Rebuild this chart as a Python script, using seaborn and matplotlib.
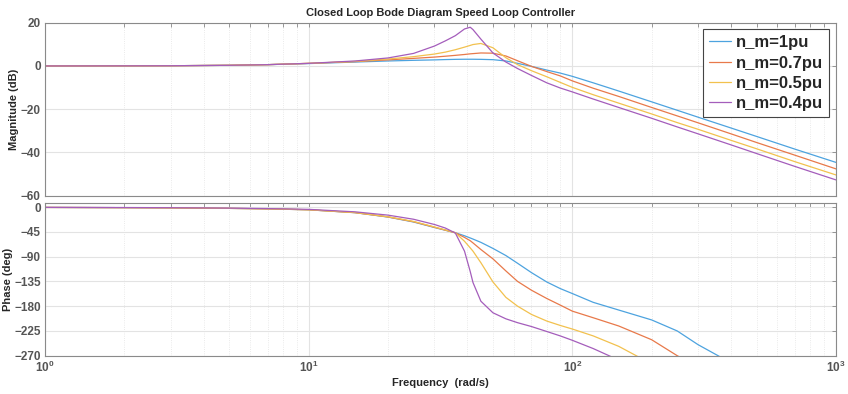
import numpy as np
import pandas as pd
import seaborn as sns
import matplotlib.pyplot as plt
from matplotlib.ticker import LogLocator, NullFormatter, MultipleLocator

# frequency grid (rad/s)
freq = [1, 2, 3, 5, 7, 10, 15, 20, 25, 30, 33, 36, 39, 41, 42, 45, 50, 56, 62,
        70, 80, 90, 100, 120, 150, 200, 250, 300, 400, 500, 700, 1000]

cases = ['n_m=1pu', 'n_m=0.7pu', 'n_m=0.5pu', 'n_m=0.4pu']

# magnitude (dB)
mag_1pu = [0, 0.05, 0.1, 0.3, 0.6, 1.1, 1.8, 2.3, 2.6, 2.8, 2.95, 3.05, 3.1, 3.1, 3.1, 3.05,
           2.9, 2.3, 1.2, -0.2, -1.9, -3.3, -4.8, -7.8, -11.6, -16.6, -20.5, -23.7, -28.7,
           -32.6, -38.5, -44.6]
mag_07pu = [0, 0.05, 0.1, 0.3, 0.6, 1.2, 2.0, 2.8, 3.5, 4.1, 4.5, 4.9, 5.3, 5.6, 5.7, 6.0,
            5.9, 4.6, 2.4, -0.2, -2.6, -4.6, -6.9, -10.3, -14.1, -19.2, -23.1, -26.3, -31.4,
            -35.4, -41.3, -47.6]
mag_05pu = [0, 0.05, 0.1, 0.3, 0.6, 1.2, 2.1, 3.2, 4.3, 5.5, 6.4, 7.5, 8.7, 9.5, 9.9, 10.4,
            8.4, 3.8, 0.6, -2.2, -5.0, -7.6, -9.9, -13.3, -17.2, -22.2, -26.2, -29.3, -34.4,
            -38.3, -44.3, -50.4]
mag_04pu = [0, 0.05, 0.1, 0.3, 0.6, 1.2, 2.3, 3.7, 5.8, 9.2, 11.6, 14.0, 17.1, 17.9, 16.8, 12.4,
            6.0, 1.8, -1.2, -4.4, -7.8, -10.2, -12.0, -15.3, -19.2, -24.2, -28.2, -31.4, -36.5,
            -40.5, -46.5, -52.7]

# phase (deg)
ph_1pu = [-0.5, -0.9, -1.3, -2.2, -3.1, -4.8, -10, -18, -27, -37, -42, -46.5, -52, -56, -58, -64,
          -75, -88, -102, -119, -136, -148, -157, -173, -187, -205, -225, -250, -283, -310,
          -350, -390]
ph_07pu = [-0.5, -0.9, -1.3, -2.2, -3.1, -4.8, -10, -17.8, -26.5, -36.5, -41.8, -46.5, -55, -61,
           -65, -77, -94, -116, -135, -151, -166, -178, -189, -201, -216, -241, -270, -290,
           -320, -345, -380, -420]
ph_05pu = [-0.5, -0.9, -1.3, -2.2, -3.1, -4.7, -9.8, -17.5, -26, -36, -41.5, -46.5, -62, -74,
           -80, -101, -136, -164, -180, -195, -207, -215, -221.5, -234, -253, -285, -305, -320,
           -345, -365, -395, -430]
ph_04pu = [-0.4, -0.7, -1.0, -1.8, -2.6, -4.0, -8.5, -14.5, -22, -31.5, -38, -47, -80, -117,
           -137, -171, -192, -203, -210, -217, -226, -234, -242, -257, -278, -300, -320, -335,
           -360, -380, -410, -440]

mags = [mag_1pu, mag_07pu, mag_05pu, mag_04pu]
phases = [ph_1pu, ph_07pu, ph_05pu, ph_04pu]

frames = []
for c, m, p in zip(cases, mags, phases):
    frames.append(pd.DataFrame({'freq': freq, 'mag': m, 'phase': p, 'case': c}))
df = pd.concat(frames, ignore_index=True)

colors = ['#4DA3DF', '#E8794A', '#F2C14E', '#A45DBB']

sns.set_theme(style='white')
plt.rcParams['font.family'] = ['Liberation Sans', 'DejaVu Sans']
plt.rcParams['mathtext.fontset'] = 'custom'
plt.rcParams['mathtext.rm'] = 'Liberation Sans:bold'
plt.rcParams['mathtext.it'] = 'Liberation Sans:bold'
plt.rcParams['mathtext.bf'] = 'Liberation Sans:bold'

fig = plt.figure(figsize=(8.48, 3.94), dpi=100)
ax1 = fig.add_axes([0.0531, 0.5033, 0.9327, 0.4391])
ax2 = fig.add_axes([0.0531, 0.0972, 0.9327, 0.3868])

for ax in (ax1, ax2):
    ax.set_xscale('log')

sns.lineplot(data=df, x='freq', y='mag', hue='case', palette=colors, ax=ax1,
             linewidth=0.9, estimator=None, sort=False)
sns.lineplot(data=df, x='freq', y='phase', hue='case', palette=colors, ax=ax2,
             linewidth=0.9, estimator=None, sort=False, legend=False)

ax1.set_ylim(-60, 20)
ax1.yaxis.set_major_locator(MultipleLocator(20))
ax2.set_ylim(-270, 7)
ax2.yaxis.set_major_locator(MultipleLocator(45))

tick_col = '#555555'
for ax in (ax1, ax2):
    ax.set_xlim(1, 1000)
    ax.xaxis.set_major_locator(LogLocator(base=10))
    ax.xaxis.set_minor_locator(LogLocator(base=10, subs=np.arange(2, 10)))
    ax.xaxis.set_minor_formatter(NullFormatter())
    ax.grid(True, which='major', color='#e3e3e3', linewidth=0.8, linestyle='-')
    ax.grid(True, which='minor', axis='x', color='#e3e3e3', linewidth=0.6, linestyle=':')
    ax.tick_params(which='both', direction='in', top=True, right=True, length=3,
                   width=0.6, color='#888888', labelsize=8.5, labelcolor=tick_col, pad=3)
    for s in ax.spines.values():
        s.set_color('#8a8a8a')
        s.set_linewidth(0.8)
    for lab in ax.get_yticklabels():
        lab.set_fontweight('bold')
    ax.set_axisbelow(True)

ax1.tick_params(labelbottom=False)
ax1.set_xlabel('')
ax1.set_ylabel('Magnitude (dB)', fontsize=8, fontweight='bold', labelpad=1)
ax2.set_ylabel('Phase (deg)', fontsize=8, fontweight='bold', labelpad=1)
ax2.set_xlabel('Frequency  (rad/s)', fontsize=8, fontweight='bold', labelpad=2)
ax1.set_title('Closed Loop Bode Diagram Speed Loop Controller', fontsize=8,
              fontweight='bold', pad=5)
for lab in ax2.get_xticklabels():
    lab.set_fontweight('bold')

h, l = ax1.get_legend_handles_labels()
leg = ax1.legend(h, l, loc='upper right', prop={'weight': 'bold', 'size': 12},
                 handlelength=1.3, handletextpad=0.35, labelspacing=0.32,
                 borderpad=0.35, borderaxespad=0.4, frameon=True, fancybox=False,
                 framealpha=1, edgecolor='#444444')
leg.get_frame().set_linewidth(0.8)
for line in leg.get_lines():
    line.set_linewidth(0.9)

fig.savefig('out.png', dpi=100)
